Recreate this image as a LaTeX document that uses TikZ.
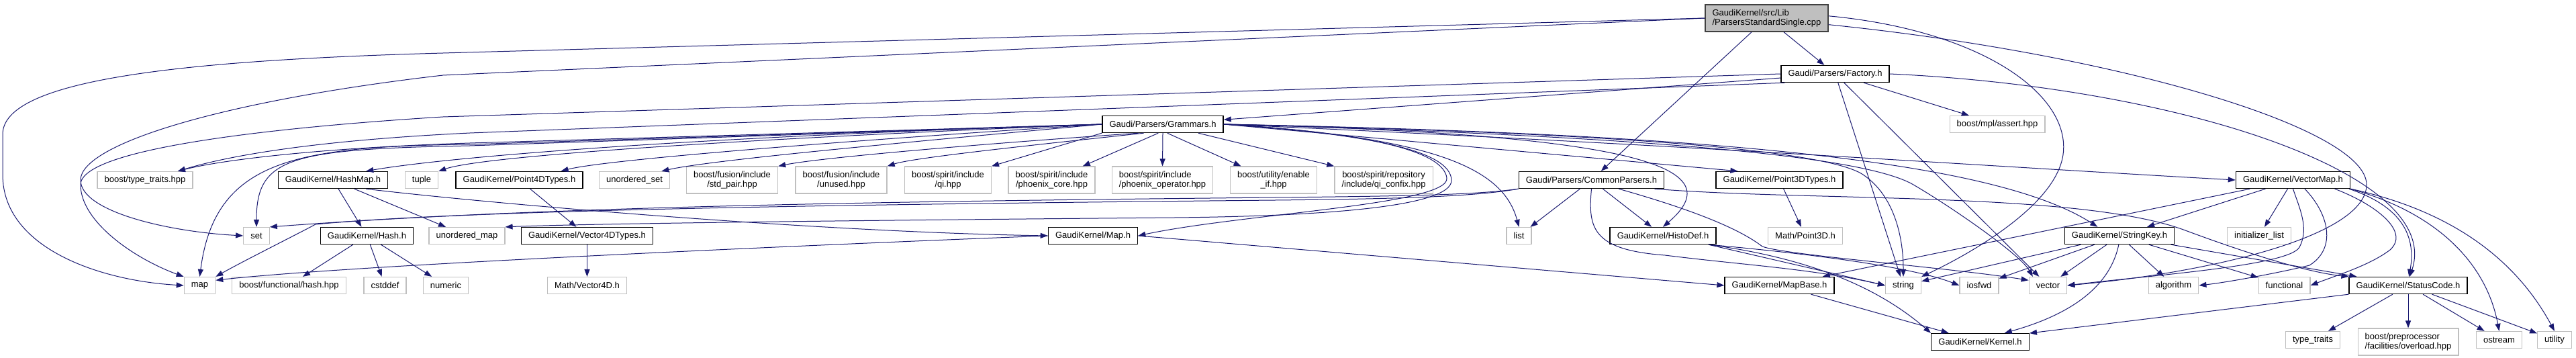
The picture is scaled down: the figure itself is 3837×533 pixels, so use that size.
\documentclass[tikz,border=0pt]{standalone}
\usepackage{fontspec}
\setmainfont{Liberation Sans}
\usetikzlibrary{arrows.meta, positioning}
\definecolor{azulmedianoche}{HTML}{191970}
\definecolor{gris75}{HTML}{BFBFBF}
\colorlet{colFlecha}{azulmedianoche}
\colorlet{colExterno}{gris75}
\colorlet{colRaiz}{gris75}
\tikzset{
  cajaNodo/.style={
    draw=black, line width=0.7pt, fill=white,
    inner xsep=5.3pt, inner ysep=0pt, minimum height=12.5pt,
    align=center, font=\fontsize{6.5}{7.2}\selectfont, text=black
  },
  cajaProyecto/.style={cajaNodo},
  cajaExterna/.style={cajaNodo, draw=colExterno, line width=0.6pt},
  cajaRaiz/.style={cajaNodo, fill=colRaiz, draw=black!75, align=left},
  dosLineas/.style={minimum height=20pt},
  flechaInclusion/.style={-{Triangle[length=5.5pt, width=4pt]}, line width=0.5pt, colFlecha},
}

\begin{document}
\begin{tikzpicture}[x=0.5pt, y=-0.5pt]
    \useasboundingbox (0,0) rectangle (3837,533);
    % Raiz
    \node[cajaRaiz, dosLineas] (raiz) at (2631.5,27) {GaudiKernel/src/Lib\\/ParsersStandardSingle.cpp};

    % Parsers
    \node[cajaProyecto] (factory) at (2733.5,110) {Gaudi/Parsers/Factory.h};
    \node[cajaProyecto] (grammars) at (1732,185) {Gaudi/Parsers/Grammars.h};
    \node[cajaExterna] (mplassert) at (2975,185) {boost/mpl/assert.hpp};

    % Tercera fila
    \node[cajaExterna] (typetraitshpp) at (216,268) {boost/type\_traits.hpp};
    \node[cajaProyecto] (hashmap) at (496,268) {GaudiKernel/HashMap.h};
    \node[cajaExterna] (tuple) at (628,268) {tuple};
    \node[cajaProyecto] (point4d) at (773.5,268) {GaudiKernel/Point4DTypes.h};
    \node[cajaExterna] (unorderedset) at (945,268) {unordered\_set};
    \node[cajaExterna, dosLineas] (stdpair) at (1090.5,268) {boost/fusion/include\\/std\_pair.hpp};
    \node[cajaExterna, dosLineas] (unused) at (1253,268) {boost/fusion/include\\/unused.hpp};
    \node[cajaExterna, dosLineas] (qi) at (1412,268) {boost/spirit/include\\/qi.hpp};
    \node[cajaExterna, dosLineas] (phoenixcore) at (1566.5,268) {boost/spirit/include\\/phoenix\_core.hpp};
    \node[cajaExterna, dosLineas, align=left] (phoenixop) at (1731.5,268) {boost/spirit/include\\/phoenix\_operator.hpp};
    \node[cajaExterna, dosLineas] (enableif) at (1897,268) {boost/utility/enable\\\_if.hpp};
    \node[cajaExterna, dosLineas] (qiconfix) at (2061,268) {boost/spirit/repository\\/include/qi\_confix.hpp};
    \node[cajaProyecto] (commonparsers) at (2370.5,268) {Gaudi/Parsers/CommonParsers.h};
    \node[cajaProyecto] (point3d) at (2650.5,268) {GaudiKernel/Point3DTypes.h};
    \node[cajaProyecto] (vectormap) at (3415.5,268) {GaudiKernel/VectorMap.h};

    % Cuarta fila
    \node[cajaExterna] (stdset) at (382,351) {set};
    \node[cajaProyecto] (hash) at (546.5,351) {GaudiKernel/Hash.h};
    \node[cajaExterna] (unorderedmap) at (695.5,351) {unordered\_map};
    \node[cajaProyecto] (vector4d) at (874.5,351) {GaudiKernel/Vector4DTypes.h};
    \node[cajaProyecto] (maph) at (1628,351) {GaudiKernel/Map.h};
    \node[cajaExterna] (stdlist) at (2262.5,351) {list};
    \node[cajaProyecto] (histodef) at (2477,351) {GaudiKernel/HistoDef.h};
    \node[cajaExterna] (mathpoint3d) at (2689,351) {Math/Point3D.h};
    \node[cajaProyecto] (stringkey) at (3157,351) {GaudiKernel/StringKey.h};
    \node[cajaExterna] (initlist) at (3365,351) {initializer\_list};

    % Quinta fila
    \node[cajaExterna] (stdmap) at (297.5,425) {map};
    \node[cajaExterna] (functionalhash) at (430.5,425) {boost/functional/hash.hpp};
    \node[cajaExterna] (cstddef) at (573.5,425) {cstddef};
    \node[cajaExterna] (numeric) at (664,425) {numeric};
    \node[cajaExterna] (mathvector4d) at (874.5,425) {Math/Vector4D.h};
    \node[cajaProyecto] (mapbase) at (2650.5,425) {GaudiKernel/MapBase.h};
    \node[cajaExterna] (stdstring) at (2835,425) {string};
    \node[cajaExterna] (iosfwd) at (2948,425) {iosfwd};
    \node[cajaExterna] (stdvector) at (3050.5,425) {vector};
    \node[cajaExterna] (algorithm) at (3237.5,425) {algorithm};
    \node[cajaExterna] (functional) at (3402.5,425) {functional};
    \node[cajaProyecto] (statuscode) at (3587,425) {GaudiKernel/StatusCode.h};

    % Ultima fila
    \node[cajaProyecto] (kernel) at (2949.5,509) {GaudiKernel/Kernel.h};
    \node[cajaExterna] (typetraits) at (3445,506) {type\_traits};
    \node[cajaExterna, dosLineas, align=left] (overload) at (3587,509) {boost/preprocessor\\/facilities/overload.hpp};
    \node[cajaExterna] (ostream) at (3722.5,506) {ostream};
    \node[cajaExterna] (utility) at (3805,506) {utility};

    % Inclusiones de la raiz
    \draw[flechaInclusion] (raiz) -- (factory);
    \draw[flechaInclusion] (raiz) -- (commonparsers);
    \draw[flechaInclusion] (raiz.west) -- (660,79) .. controls (260,90) and (4,120) .. (4,200) -- (4,260) .. controls (4,370) and (150,418) .. (stdmap.west);
    \draw[flechaInclusion] (raiz.west) -- (660,112) .. controls (330,150) and (120,215) .. (120,268) .. controls (120,315) and (250,345) .. (stdset.west);
    \draw[flechaInclusion] (raiz.2) .. controls (2950,45) and (3085,140) .. (3073,230) .. controls (3062,310) and (2920,385) .. (stdstring.north east);
    \draw[flechaInclusion] (raiz.-6) .. controls (3150,80) and (3525,190) .. (3525,275) .. controls (3525,350) and (3300,405) .. (stdvector.east);

    % Factory.h
    \draw[flechaInclusion] (factory) -- (grammars);
    \draw[flechaInclusion] (factory) -- (mplassert);
    \draw[flechaInclusion] (factory) -- (stdstring);
    \draw[flechaInclusion] (factory) -- (stdvector);
    \draw[flechaInclusion] (factory.east) .. controls (3250,130) and (3640,260) .. (statuscode.80);
    \draw[flechaInclusion] (factory.west) -- (660,174) .. controls (400,190) and (120,222) .. (120,275) .. controls (120,330) and (200,385) .. (stdmap.north west);
    \draw[flechaInclusion] (factory.190) -- (700,198) .. controls (450,210) and (330,235) .. (typetraitshpp.15);

    % Grammars.h hacia la izquierda
    \draw[flechaInclusion] (grammars.west) -- (700,213) .. controls (480,220) and (330,238) .. (typetraitshpp.15);
    \draw[flechaInclusion] (grammars.west) .. controls (1000,205) and (660,235) .. (hashmap.15);
    \draw[flechaInclusion] (grammars.west) .. controls (1100,207) and (720,232) .. (tuple.north east);
    \draw[flechaInclusion] (grammars.west) .. controls (1250,210) and (900,238) .. (point4d.12);
    \draw[flechaInclusion] (grammars.west) .. controls (1350,212) and (1060,238) .. (unorderedset.18);
    \draw[flechaInclusion] (grammars.200) .. controls (1450,215) and (1220,235) .. (stdpair.north east);
    \draw[flechaInclusion] (grammars.205) .. controls (1520,218) and (1360,235) .. (unused.north east);
    \draw[flechaInclusion] (grammars.south west) -- (qi.north east);
    \draw[flechaInclusion] (grammars.-117) -- (phoenixcore.24);
    \draw[flechaInclusion] (grammars.south) -- (phoenixop.north);
    \draw[flechaInclusion] (grammars.-63) -- (enableif.157);
    \draw[flechaInclusion] (grammars.-14) -- (qiconfix.north west);
    \draw[flechaInclusion] (grammars.west) -- (700,217) .. controls (430,222) and (382,235) .. (stdset.north);
    \draw[flechaInclusion] (grammars.west) -- (700,215) .. controls (440,218) and (320,238) .. (stdmap.north);

    % Grammars.h hacia la derecha
    \draw[flechaInclusion] (grammars.east) .. controls (2150,205) and (2240,255) .. (stdlist.north);
    \draw[flechaInclusion] (grammars.east) .. controls (2450,200) and (2580,250) .. (histodef.north);
    \draw[flechaInclusion] (grammars.east) -- (point3d.168);
    \draw[flechaInclusion] (grammars.east) .. controls (2500,215) and (3000,250) .. (vectormap.west);
    \draw[flechaInclusion] (grammars.east) .. controls (2600,200) and (2980,245) .. (stringkey.158);
    \draw[flechaInclusion] (grammars.east) .. controls (2500,200) and (2730,230) .. (2775,260) .. controls (2820,290) and (2835,350) .. (stdstring.north);
    \draw[flechaInclusion] (grammars.east) .. controls (2550,205) and (2790,240) .. (2850,275) .. controls (2910,310) and (3010,380) .. (stdvector.150);
    \draw[flechaInclusion] (grammars.east) .. controls (2040,198) and (2150,225) .. (2155,265) .. controls (2160,305) and (1850,318) .. (maph.east);
    \draw[flechaInclusion] (grammars.east) .. controls (2045,200) and (2160,225) .. (2162,268) .. controls (2164,310) and (1950,322) .. (1750,324) .. controls (1400,327) and (900,332) .. (unorderedmap.north east);

    % CommonParsers.h
    \draw[flechaInclusion] (commonparsers.south west) .. controls (2200,290) and (2100,292) .. (1900,294) .. controls (1300,300) and (800,308) .. (stdset.north east);
    \draw[flechaInclusion] (commonparsers.south west) .. controls (2200,292) and (2100,296) .. (1900,298) .. controls (1300,304) and (700,312) .. (470,334) .. controls (440,350) and (360,390) .. (stdmap.north east);
    \draw[flechaInclusion] (commonparsers) -- (stdlist);
    \draw[flechaInclusion] (commonparsers) -- (histodef);
    \draw[flechaInclusion] (commonparsers.south) .. controls (2365,340) and (2372,372) .. (2480,380) .. controls (2600,395) and (2700,400) .. (stdstring.west);
    \draw[flechaInclusion] (commonparsers.-8) .. controls (2700,300) and (3100,285) .. (3255,343) .. controls (3325,369) and (3430,405) .. (statuscode.north west);
    \draw[flechaInclusion] (commonparsers.-18) .. controls (2520,312) and (2590,340) .. (2625,367) .. controls (2660,380) and (2900,398) .. (stdvector.165);

    % HashMap.h, Hash.h y tipos
    \draw[flechaInclusion] (hashmap) -- (hash);
    \draw[flechaInclusion] (hashmap) -- (unorderedmap);
    \draw[flechaInclusion] (hashmap.-15) .. controls (700,300) and (1200,345) .. (maph.west);
    \draw[flechaInclusion] (hash) -- (functionalhash);
    \draw[flechaInclusion] (hash) -- (cstddef);
    \draw[flechaInclusion] (hash) -- (numeric);
    \draw[flechaInclusion] (point4d) -- (vector4d);
    \draw[flechaInclusion] (vector4d) -- (mathvector4d);
    \draw[flechaInclusion] (point3d) -- (mathpoint3d);

    % Map.h y HistoDef.h
    \draw[flechaInclusion] (maph.west) .. controls (1200,365) and (520,395) .. (stdmap.18);
    \draw[flechaInclusion] (maph.east) -- (mapbase.west);
    \draw[flechaInclusion] (histodef.-11) -- (stdstring.west);
    \draw[flechaInclusion] (histodef.-11) .. controls (2700,385) and (2800,430) .. (kernel.north west);
    \draw[flechaInclusion] (histodef.-11) .. controls (2700,378) and (2850,398) .. (iosfwd.west);

    % VectorMap.h
    \draw[flechaInclusion] (vectormap) -- (mapbase);
    \draw[flechaInclusion] (vectormap) -- (stringkey);
    \draw[flechaInclusion] (vectormap) -- (initlist);
    \draw[flechaInclusion] (vectormap.south) .. controls (3425,310) and (3440,340) .. (3425,368) .. controls (3410,396) and (3200,410) .. (stdvector.east);
    \draw[flechaInclusion] (vectormap.-37) .. controls (3470,320) and (3480,370) .. (3440,395) .. controls (3400,405) and (3320,420) .. (algorithm.east);
    \draw[flechaInclusion] (vectormap.-12) .. controls (3540,305) and (3590,345) .. (3560,372) .. controls (3530,395) and (3480,410) .. (functional.east);
    \draw[flechaInclusion] (vectormap.-9) .. controls (3570,305) and (3600,345) .. (statuscode.85);
    \draw[flechaInclusion] (vectormap.south east) .. controls (3640,320) and (3705,400) .. (ostream.north);
    \draw[flechaInclusion] (vectormap.south east) .. controls (3680,320) and (3760,410) .. (utility.north);

    % StringKey.h
    \draw[flechaInclusion] (stringkey) -- (stdstring);
    \draw[flechaInclusion] (stringkey) -- (iosfwd);
    \draw[flechaInclusion] (stringkey) -- (stdvector);
    \draw[flechaInclusion] (stringkey) -- (algorithm);
    \draw[flechaInclusion] (stringkey) -- (functional);
    \draw[flechaInclusion] (stringkey) -- (statuscode);
    \draw[flechaInclusion] (stringkey.-95) .. controls (3140,440) and (3060,475) .. (kernel.20);

    % StatusCode.h y MapBase.h
    \draw[flechaInclusion] (statuscode) -- (typetraits);
    \draw[flechaInclusion] (statuscode) -- (overload);
    \draw[flechaInclusion] (statuscode) -- (ostream);
    \draw[flechaInclusion] (statuscode) -- (utility);
    \draw[flechaInclusion] (statuscode.south west) -- (kernel.10);
    \draw[flechaInclusion] (mapbase) -- (kernel);
\end{tikzpicture}
\end{document}
